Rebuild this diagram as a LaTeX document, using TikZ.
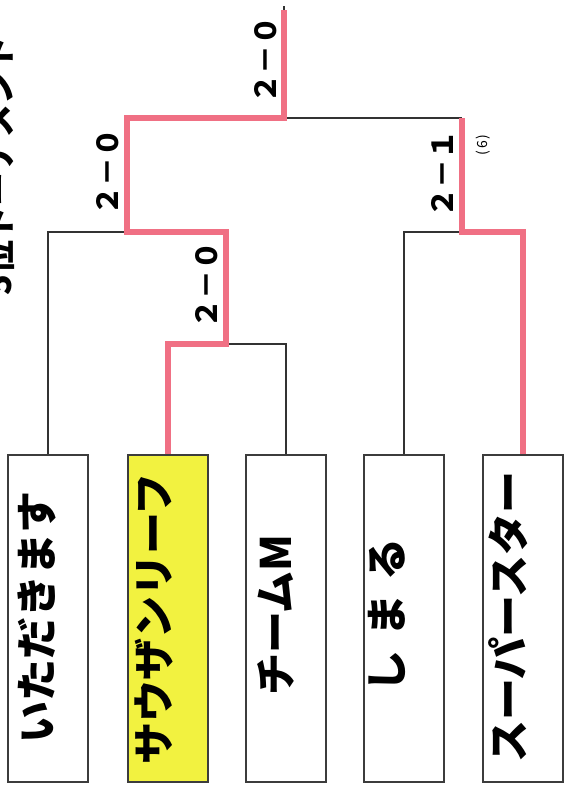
\documentclass[tikz,border=0pt]{standalone}
\usepackage{fontspec}
\newfontfamily\jp{Noto Sans CJK JP}
\definecolor{winred}{RGB}{240,112,132}
\definecolor{boxgray}{RGB}{60,60,60}
\definecolor{linegray}{RGB}{50,50,50}
\definecolor{teamyellow}{RGB}{242,242,64}
\begin{document}
\begin{tikzpicture}[x=1pt,y=-1pt,
  team/.style={draw=boxgray, line width=1.8pt, minimum width=80pt, minimum height=327pt, inner sep=0pt},
  teamname/.style={rotate=90, inner sep=0pt, font={\jp\bfseries\fontsize{42}{50}\selectfont}},
  bracket/.style={draw=linegray, line width=1.8pt},
  win/.style={draw=winred, line width=6pt, line join=miter},
  score/.style={rotate=90, inner sep=0pt, font={\jp\bfseries\fontsize{29}{34}\selectfont}},
  note/.style={rotate=90, inner sep=0pt, font={\jp\fontsize{14}{16}\selectfont}},
  titletext/.style={rotate=90, inner sep=0pt, anchor=base, font={\jp\bfseries\fontsize{34}{40}\selectfont}}]
\useasboundingbox (0,0) rectangle (570,794);
\clip (0,0) rectangle (570,794);
\fill[white] (0,0) rectangle (570,794);

% title (cut off at the left edge, as in the reference)
\node[titletext] (title) at (12,166) {5位トーナメント};

% team boxes
\node[team] (b1) at (48,618.5) {};
\node[team, fill=teamyellow] (b2) at (168,618.5) {};
\node[team] (b3) at (286,618.5) {};
\node[team] (b4) at (404,618.5) {};
\node[team] (b5) at (523,618.5) {};

\node[teamname] (t1) at (36.5,617) {いただきます};
\node[teamname] (t2) at (154,619) {サウザンリーフ};
\node[teamname] (t3) at (276,615) {チームM};
\node[teamname] (t4) at (387,615) {し\hspace{14pt}ま\hspace{14pt}る};
\node[teamname] (t5) at (508,617) {スーパースター};

% joints
\coordinate (m1) at (226,344);
\coordinate (s1) at (127,232);
\coordinate (s2) at (462,232);
\coordinate (f) at (284,118);
\coordinate (top) at (284,6);
\coordinate (topr) at (284,10);

% bracket lines
\draw[bracket] (b2.north) -- (b2.north |- m1) -- (b3.north |- m1) -- (b3.north);
\draw[bracket] (m1) -- (m1 |- s1);
\draw[bracket] (b1.north) -- (b1.north |- s1) -- (m1 |- s1);
\draw[bracket] (s1) -- (s1 |- f);
\draw[bracket] (b4.north) -- (b4.north |- s2) -- (b5.north |- s2) -- (b5.north);
\draw[bracket] (s2) -- (s2 |- f);
\draw[bracket] (s1 |- f) -- (s2 |- f);
\draw[bracket] (f) -- (top);

% winners
\draw[win] (b2.north) -- (b2.north |- m1) -- (m1) -- (m1 |- s1) -- (s1) -- (s1 |- f) -- (f) -- (topr);
\draw[win] (b5.north) -- (b5.north |- s2) -- (s2) -- (s2 |- f);

% scores
\node[score] (sc1) at (266,60) {２－０};
\node[score] (sc2) at (108,172) {２－０};
\node[score] (sc3) at (207,285) {２－０};
\node[score] (sc4) at (442,174) {２－１};
\node[note] (sc5) at (483,145) {(\hspace{2pt}6\hspace{2pt})};
\end{tikzpicture}
\end{document}
